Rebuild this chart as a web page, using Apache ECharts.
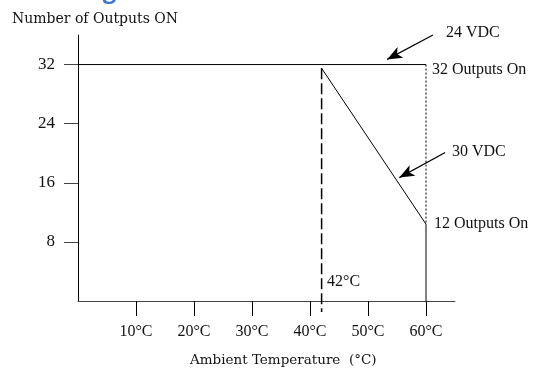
<!DOCTYPE html>
<html><head><meta charset="utf-8">
<script src="https://cdn.jsdelivr.net/npm/echarts@6/dist/echarts.min.js"></script>
<style>html,body{margin:0;padding:0;background:#fff}#c{width:533px;height:371px}</style>
</head><body><div id="c"></div>
<script>
// ---- data ----
const xTickValues = [10, 20, 30, 40, 50, 60];
const yTickValues = [8, 16, 24, 32];
const line24VDC = [[0, 32], [60, 32]];
const line30VDC = [[42, 31.5], [60, 10.4]];
const edgeAt60 = [[60, 10.4], [60, 0]];
const dottedAt60 = [[60, 32], [60, 10.4]];
const dashedAt42 = [[42, 31.5], [42, -1.5]];
const arrow24 = [[61.2, 36.0], [53.3, 32.7]];
const arrow30 = [[63.3, 20.1], [55.4, 16.7]];
const labels = {
  heading: 'Derating Curve',
  yName: 'Number of Outputs ON',
  xName: 'Ambient Temperature  (°C)',
  v24: '24 VDC',
  v30: '30 VDC',
  out32: '32 Outputs On',
  out12: '12 Outputs On',
  t42: '42°C'
};

const SERIF = '"Liberation Serif", "Times New Roman", serif';
const chart = echarts.init(document.getElementById('c'), null, {renderer: 'canvas'});

function lineSeries(data, type, width, extra) {
  return Object.assign({
    type: 'line', data: data, symbol: 'none', silent: true,
    lineStyle: {color: '#000', width: width, type: type},
    clip: false, z: 3
  }, extra || {});
}

const annot = (text, x, y, size) => ({
  type: 'text', x: x, y: y, silent: true,
  style: {text: text, fill: '#111', font: size + 'px ' + SERIF, verticalAlign: 'middle', align: 'left'}
});

chart.setOption({
  animation: false,
  backgroundColor: '#fff',
  grid: {left: 78, right: 78, top: 35, bottom: 70, containLabel: false},
  xAxis: {
    type: 'value', min: 0, max: 65,
    axisLine: {show: true, lineStyle: {color: '#444', width: 1}},
    axisTick: {show: true, inside: false, length: 15, customValues: xTickValues, lineStyle: {color: '#000', width: 1}},
    axisLabel: {show: true, customValues: xTickValues, formatter: '{value}°C', margin: 23,
      fontSize: 16, fontFamily: SERIF, color: '#111'},
    splitLine: {show: false}
  },
  yAxis: {
    type: 'value', min: 0, max: 36,
    axisLine: {show: true, onZero: false, lineStyle: {color: '#000', width: 1}},
    axisTick: {show: true, inside: false, length: 14, customValues: yTickValues, lineStyle: {color: '#444', width: 1}},
    axisLabel: {show: true, customValues: yTickValues, margin: 23, fontSize: 17, fontFamily: SERIF, color: '#111'},
    splitLine: {show: false}
  },
  series: [
    lineSeries(line24VDC, 'solid', 1, {
      markLine: {
        silent: true, animation: false,
        symbol: ['none', 'arrow'], symbolSize: [9, 15],
        label: {show: false},
        lineStyle: {color: '#000', width: 1.2, type: 'solid'},
        data: [
          [{coord: arrow24[0]}, {coord: arrow24[1]}],
          [{coord: arrow30[0]}, {coord: arrow30[1]}]
        ]
      }
    }),
    lineSeries(line30VDC, 'solid', 1),
    lineSeries(edgeAt60, 'solid', 1),
    lineSeries(dottedAt60, [2, 2], 1),
    lineSeries(dashedAt42, [11, 4], 1.5)
  ],
  graphic: [
    {type: 'text', x: 12, y: 3, silent: true,
      style: {text: labels.heading, fill: '#3b73d6', font: 'bold 24px "Open Sans", sans-serif', verticalAlign: 'bottom'}},
    {type: 'text', x: 12, y: 19.5, silent: true,
      style: {text: labels.yName, fill: '#111', font: '14px "DejaVu Serif", serif', verticalAlign: 'middle'}},
    {type: 'text', x: 190, y: 360.5, silent: true,
      style: {text: labels.xName, fill: '#111', font: '13.5px "DejaVu Serif", serif', verticalAlign: 'middle'}},
    annot(labels.v24, 446, 32.5, 16),
    annot(labels.out32, 432, 69.5, 16),
    annot(labels.v30, 452, 152, 16),
    annot(labels.out12, 434, 223.5, 16),
    annot(labels.t42, 327, 282, 16)
  ]
});
</script></body></html>
